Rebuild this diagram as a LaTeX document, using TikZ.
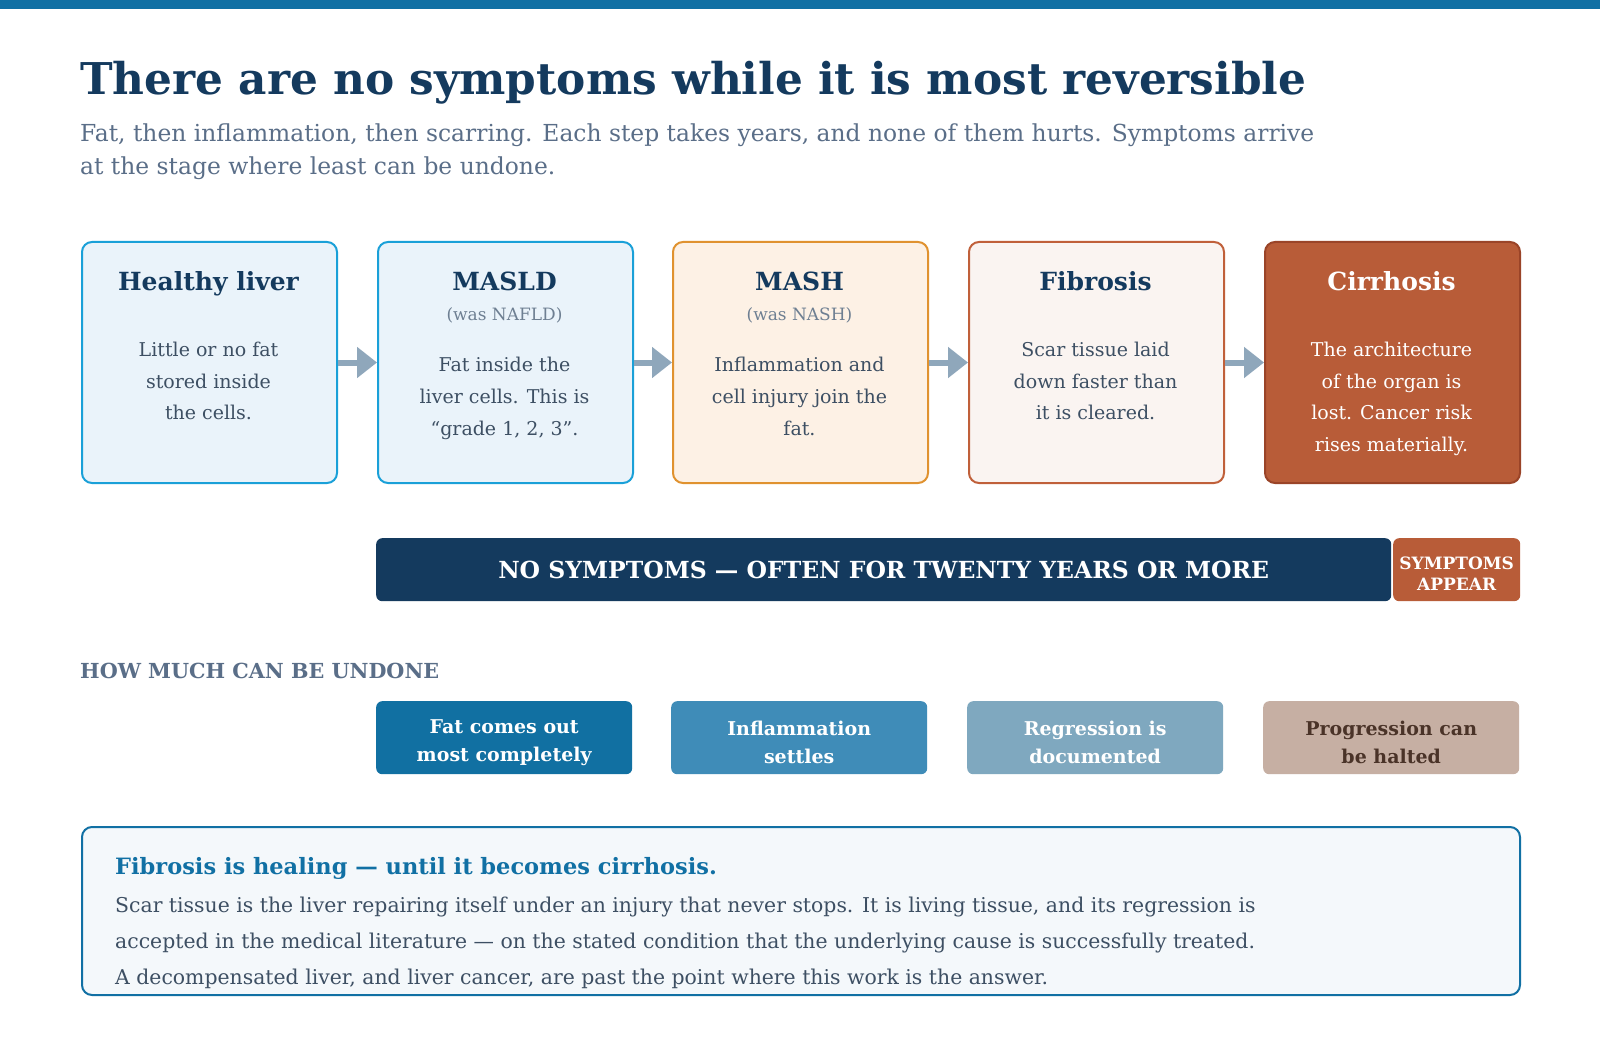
\documentclass[tikz,border=0pt]{standalone}
\usepackage{fontspec}
\setmainfont{DejaVu Serif}
\usetikzlibrary{arrows.meta}
\definecolor{topbar}{HTML}{1170A4}
\definecolor{navy}{HTML}{143A5E}
\definecolor{subt}{HTML}{5A6E88}
\definecolor{bodyc}{HTML}{3D4F63}
\definecolor{muted}{HTML}{6E7F92}
\definecolor{skyb}{HTML}{1AA0D8}
\definecolor{skyf}{HTML}{EAF3FA}
\definecolor{orb}{HTML}{E0922F}
\definecolor{orf}{HTML}{FDF1E5}
\definecolor{rub}{HTML}{C0603A}
\definecolor{ruf}{HTML}{FAF4F1}
\definecolor{cirf}{HTML}{B85C38}
\definecolor{cirb}{HTML}{9A4428}
\definecolor{arrowc}{HTML}{8FA7BB}
\definecolor{ua}{HTML}{1170A2}
\definecolor{ub}{HTML}{3F8CB8}
\definecolor{uc}{HTML}{7FA8BF}
\definecolor{ud}{HTML}{C6AFA3}
\definecolor{ubrown}{HTML}{4A3328}
\definecolor{notef}{HTML}{F4F8FB}
\begin{document}
\begin{tikzpicture}[x=1pt,y=-1pt,
  stagebox/.style={draw, line width=2pt, rounded corners=10pt, minimum width=255pt, minimum height=241pt, anchor=north west, inner sep=0pt},
  stitle/.style={anchor=base, inner sep=0pt, font=\bfseries\fontsize{25}{30}\selectfont, text=navy},
  sold/.style={anchor=base, inner sep=0pt, font=\fontsize{17}{20}\selectfont, text=muted},
  sbody/.style={anchor=base, inner sep=0pt, font=\fontsize{19}{24}\selectfont, text=bodyc},
  flow/.style={draw=arrowc, line width=6pt, -{Triangle[length=20pt,width=30pt]}},
  undo/.style={anchor=north west, minimum width=256pt, minimum height=73pt, rounded corners=6pt, inner sep=0pt},
  utext/.style={inner sep=0pt, align=center, font=\bfseries\fontsize{19}{28}\selectfont, text=white},
  plain/.style={anchor=base west, inner sep=0pt},
]
\useasboundingbox (0,0) rectangle (1600,1056);
\fill[white] (0,0) rectangle (1600,1056);
\fill[topbar] (0,0) rectangle (1600,9);

\node[plain, font=\bfseries\fontsize{43.8}{50}\selectfont, text=navy] (title) at (80,95) {There are no symptoms while it is most reversible};
\node[plain, font=\fontsize{23.4}{30}\selectfont, text=subt] (sub1) at (80,142) {Fat, then inflammation, then scarring. Each step takes years, and none of them hurts. Symptoms arrive};
\node[plain, font=\fontsize{23.4}{30}\selectfont, text=subt] (sub2) at (80,175) {at the stage where least can be undone.};

\node[stagebox, draw=skyb, fill=skyf] (healthy) at (81,241) {};
\node[stagebox, draw=skyb, fill=skyf] (masld) at (377,241) {};
\node[stagebox, draw=orb, fill=orf] (mash) at (672,241) {};
\node[stagebox, draw=rub, fill=ruf] (fib) at (968,241) {};
\node[stagebox, draw=cirb, fill=cirf] (cirr) at (1264,241) {};

\draw[flow] (healthy.east) -- (masld.west);
\draw[flow] (masld.east) -- (mash.west);
\draw[flow] (mash.east) -- (fib.west);
\draw[flow] (fib.east) -- (cirr.west);

\node[stitle] (t1) at (208.5,291) {Healthy liver};
\node[sbody] (b1a) at (208.5,356) {Little or no fat};
\node[sbody] (b1b) at (208.5,388) {stored inside};
\node[sbody] (b1c) at (208.5,419) {the cells.};

\node[stitle] (t2) at (504.5,291) {MASLD};
\node[sold] (o2) at (504.5,321) {(was NAFLD)};
\node[sbody] (b2a) at (504.5,371) {Fat inside the};
\node[sbody] (b2b) at (504.5,403) {liver cells. This is};
\node[sbody] (b2c) at (504.5,435) {“grade 1, 2, 3”.};

\node[stitle] (t3) at (799.5,291) {MASH};
\node[sold] (o3) at (799.5,321) {(was NASH)};
\node[sbody] (b3a) at (799.5,371) {Inflammation and};
\node[sbody] (b3b) at (799.5,403) {cell injury join the};
\node[sbody] (b3c) at (799.5,435) {fat.};

\node[stitle] (t4) at (1095.5,291) {Fibrosis};
\node[sbody] (b4a) at (1095.5,356) {Scar tissue laid};
\node[sbody] (b4b) at (1095.5,388) {down faster than};
\node[sbody] (b4c) at (1095.5,419) {it is cleared.};

\node[stitle, text=white] (t5) at (1391.5,291) {Cirrhosis};
\node[sbody, text=white] (b5a) at (1391.5,356) {The architecture};
\node[sbody, text=white] (b5b) at (1391.5,388) {of the organ is};
\node[sbody, text=white] (b5c) at (1391.5,419) {lost. Cancer risk};
\node[sbody, text=white] (b5d) at (1391.5,451) {rises materially.};

\node[anchor=north west, fill=navy, rounded corners=6pt, minimum width=1015pt, minimum height=63pt, inner sep=0pt, font=\bfseries\fontsize{23.5}{26}\selectfont, text=white] (nosym) at (376,538) {NO SYMPTOMS — OFTEN FOR TWENTY YEARS OR MORE};
\node[anchor=north west, fill=cirf, rounded corners=6pt, minimum width=127pt, minimum height=63pt, inner sep=0pt] (sympt) at (1393,538) {};
\node[utext, font=\bfseries\fontsize{17}{21.5}\selectfont] (symptt) at ([yshift=-4pt]sympt.center) {SYMPTOMS\\APPEAR};

\node[plain, font=\bfseries\fontsize{20.7}{24}\selectfont, text=subt] (howmuch) at (80,678) {HOW MUCH CAN BE UNDONE};

\node[undo, fill=ua] (u1) at (376,701) {};
\node[undo, fill=ub] (u2) at (671,701) {};
\node[undo, fill=uc] (u3) at (967,701) {};
\node[undo, fill=ud] (u4) at (1263,701) {};
\node[utext] (u1t) at ([yshift=-4.5pt]u1.center) {Fat comes out\\most completely};
\node[utext] (u2t) at ([yshift=-4.5pt]u2.center) {Inflammation\\settles};
\node[utext] (u3t) at ([yshift=-4.5pt]u3.center) {Regression is\\documented};
\node[utext, text=ubrown] (u4t) at ([yshift=-4.5pt]u4.center) {Progression can\\be halted};

\node[anchor=north west, draw=topbar, line width=2pt, fill=notef, rounded corners=10pt, minimum width=1438pt, minimum height=168pt, inner sep=0pt] (note) at (81,826) {};
\node[plain, font=\bfseries\fontsize{22.5}{26}\selectfont, text=topbar] (nh) at (115,874) {Fibrosis is healing — until it becomes cirrhosis.};
\node[plain, font=\fontsize{20.4}{24}\selectfont, text=bodyc] (n1) at (115,912) {Scar tissue is the liver repairing itself under an injury that never stops. It is living tissue, and its regression is};
\node[plain, font=\fontsize{20.4}{24}\selectfont, text=bodyc] (n2) at (115,948) {accepted in the medical literature — on the stated condition that the underlying cause is successfully treated.};
\node[plain, font=\fontsize{20.4}{24}\selectfont, text=bodyc] (n3) at (115,984) {A decompensated liver, and liver cancer, are past the point where this work is the answer.};
\end{tikzpicture}
\end{document}
